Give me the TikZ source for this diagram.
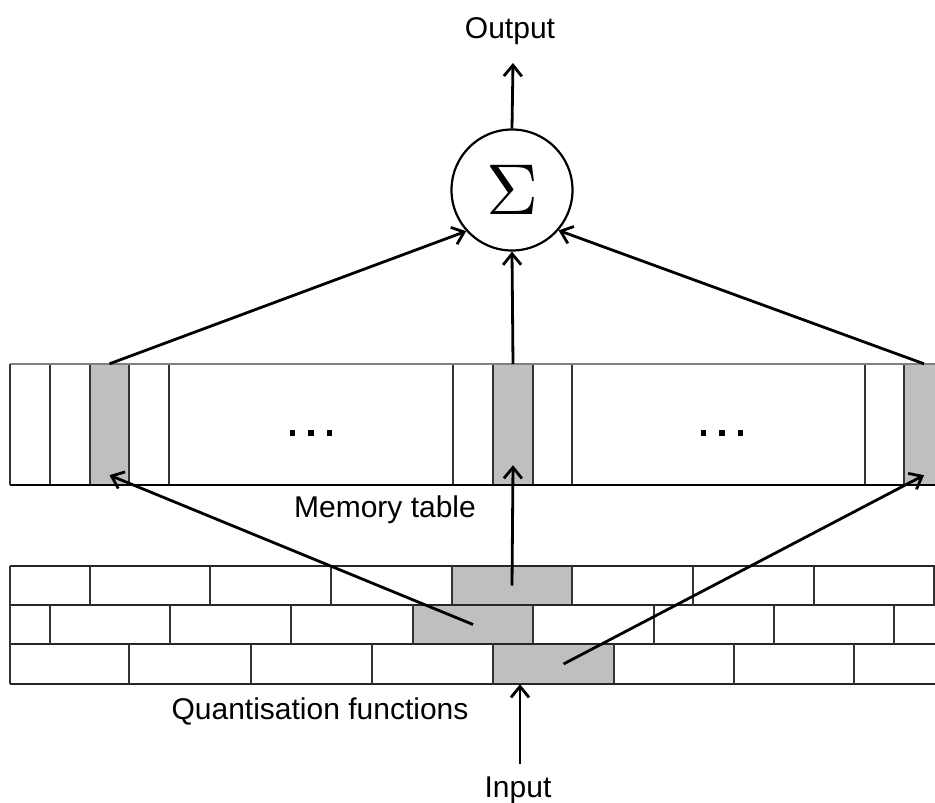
\documentclass[tikz,border=0pt]{standalone}
\usepackage{fontspec}
\setmainfont{Liberation Sans}
\usetikzlibrary{arrows.meta,calc}
\begin{document}
\begin{tikzpicture}[x=1pt,y=-1pt,
  cellfill/.style={fill=black!25, draw=none, inner sep=0pt},
  grid/.style={line width=1.6pt, draw=black!80},
  conn/.style={line width=2.8pt, -{Straight Barb[length=11pt,width=18pt]}},
  lbl/.style={font=\fontsize{30}{36}\selectfont, inner sep=0pt}]
\useasboundingbox (0,0) rectangle (935,803);
\begin{scope}
\clip (0,0) rectangle (935,803);
% memory table: active cells
\node[cellfill, minimum width=39pt, minimum height=121pt] (mA) at (109.5,424.5) {};
\node[cellfill, minimum width=40pt, minimum height=121pt] (mB) at (513,424.5) {};
\node[cellfill, minimum width=40pt, minimum height=121pt] (mC) at (924,424.5) {};
% quantisation rows: active intervals
\node[cellfill, minimum width=120pt, minimum height=39pt] (qA) at (512,585.5) {};
\node[cellfill, minimum width=120pt, minimum height=39pt] (qB) at (473,624.5) {};
\node[cellfill, minimum width=121pt, minimum height=40pt] (qC) at (553.5,664) {};
% memory table outline and cell dividers
\foreach \x in {50,90,129,169,453,493,533,572,865,904}
  \draw[grid] (\x,364) -- (\x,485);
\draw[line width=1.5pt, draw=black!50] (10,364) -- (940,364);
\draw[line width=2pt] (10,485) -- (940,485);
\draw[grid] (10,364) -- (10,485);
% quantisation rows
\foreach \y in {566,605,644,684}
  \draw[line width=1.8pt, draw=black!85] (10,\y) -- (940,\y);
\draw[grid] (10,566) -- (10,684);
\foreach \x in {90,210,331,452,572,693,814,934}
  \draw[grid] (\x,566) -- (\x,605);
\foreach \x in {50,170,291,413,533,654,774,894}
  \draw[grid] (\x,605) -- (\x,644);
\foreach \x in {129,251,372,493,614,734,854}
  \draw[grid] (\x,644) -- (\x,684);
% ellipsis dots inside the table
\foreach \x in {292.5,311,329.5,703.5,722,740.5}
  \fill (\x-2.8,430.2) rectangle (\x+2.8,435.8);
\end{scope}
% summation node
\node[circle, draw, line width=2.2pt, minimum size=121pt, inner sep=0pt] (sum) at (512,190) {\scalebox{7.2}{$\Sigma$}};
% labels
\node[lbl] (outlbl) at (510,31) {Output};
\node[lbl] (memlbl) at (385,510) {Memory table};
\node[lbl] (qlbl) at (320,711) {Quantisation functions};
\node[lbl] (inlbl) at (518,790) {Input};
\coordinate (outtip) at (513,63);
\coordinate (inbase) at (520,764);
% connectors
\draw[conn] (sum.north) -- (outtip);
\draw[conn] (mA.north) -- (sum.222);
\draw[conn] (mB.north) -- (sum.south);
\draw[conn] (mC.north) -- (sum.319);
\draw[conn] (qB.center) -- ([yshift=10pt]mA.south);
\draw[conn] (qA.center) -- ([yshift=20pt]mB.south);
\draw[conn] ([xshift=10pt]qC.center) -- ([yshift=10pt]mC.south);
\draw[conn] (inbase) -- (qC.south -| inbase);
\end{tikzpicture}
\end{document}
